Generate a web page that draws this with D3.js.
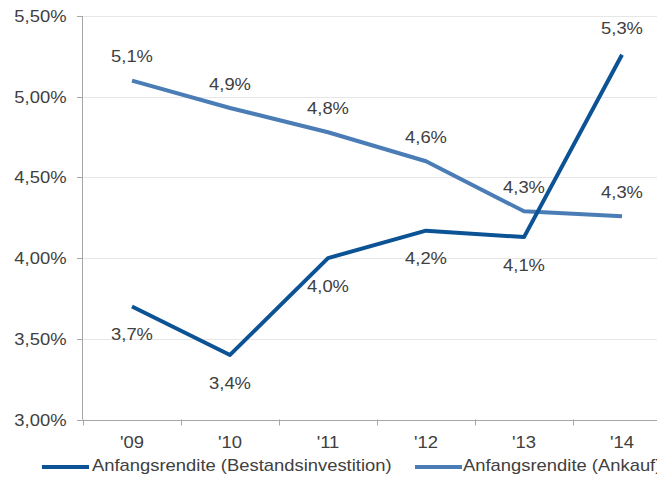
<!DOCTYPE html>
<html>
<head>
<meta charset="utf-8">
<script src="https://cdn.jsdelivr.net/npm/d3@7"></script>
<style>
  body { margin: 0; background: #fff; }
  text { font-family: "Liberation Sans", Arial, sans-serif; fill: #404040; }
</style>
</head>
<body>
<div id="chart"></div>
<script>
// data
var years = ["'09", "'10", "'11", "'12", "'13", "'14"]
var bestand = [3.70, 3.40, 4.00, 4.17, 4.13, 5.26]
var ankauf = [5.10, 4.93, 4.78, 4.60, 4.29, 4.26]
var yTicks = [3.0, 3.5, 4.0, 4.5, 5.0, 5.5]
var seriesNames = ["Anfangsrendite (Bestandsinvestition)", "Anfangsrendite (Ankauf)"]

var dims = { width: 657, height: 477, left: 83, right: 671, top: 16, bottom: 419.5 }
var colors = { dark: "#0b5394", light: "#4a7db6" }
var stretch = 1.15 // text in the picture is a bit wider than normal

var svg = d3.select("#chart").append("svg")
    .attr("width", dims.width)
    .attr("height", dims.height)

var x = d3.scaleBand().domain(years).range([dims.left, dims.right])
var y = d3.scaleLinear().domain([3, 5.5]).range([dims.bottom, dims.top])

var comma = function(f) { return function(v) { return d3.format(f)(v).replace(".", ",") } }

function label(g, txt, px, py, anchor) {
    return g.append("text")
        .attr("transform", `translate(${px},${py}) scale(${stretch},1)`)
        .attr("text-anchor", anchor || "middle")
        .attr("dy", "0.35em")
        .attr("font-size", "16px")
        .text(txt)
}

// gridlines
svg.append("g").selectAll("line")
    .data(yTicks.slice(1))
    .enter().append("line")
    .attr("x1", dims.left).attr("x2", dims.width)
    .attr("y1", d => Math.round(y(d)) + 0.5).attr("y2", d => Math.round(y(d)) + 0.5)
    .style("stroke", "#e6e6e6")

// y axis
var yAxis = svg.append("g")
yAxis.append("line")
    .attr("x1", dims.left - 0.5).attr("x2", dims.left - 0.5)
    .attr("y1", dims.top).attr("y2", dims.bottom)
    .style("stroke", "#a6a6a6")
yTicks.forEach(function(t) {
    var ty = Math.round(y(t)) + 0.5
    yAxis.append("line")
        .attr("x1", dims.left - 6).attr("x2", dims.left)
        .attr("y1", ty).attr("y2", ty)
        .style("stroke", "#a6a6a6")
    label(yAxis, comma(".2f")(t) + "%", 66.5, ty, "end")
})

// x axis
var xAxis = svg.append("g")
xAxis.append("line")
    .attr("x1", dims.left - 1).attr("x2", dims.width)
    .attr("y1", Math.round(dims.bottom) + 0.5).attr("y2", Math.round(dims.bottom) + 0.5)
    .style("stroke", "#a6a6a6")
years.forEach(function(yr, i) {
    var tx = Math.round(x(yr)) + 0.5
    xAxis.append("line")
        .attr("x1", tx).attr("x2", tx)
        .attr("y1", dims.bottom).attr("y2", dims.bottom + 6)
        .style("stroke", "#a6a6a6")
    label(xAxis, yr, x(yr) + x.bandwidth() / 2, 442)
})

// lines
var line = d3.line()
    .x((d, i) => x(years[i]) + x.bandwidth() / 2)
    .y(d => y(d))

svg.append("path")
    .datum(ankauf)
    .attr("d", line)
    .style("fill", "none")
    .style("stroke", colors.light)
    .style("stroke-width", 4)
    .style("stroke-linejoin", "round")

svg.append("path")
    .datum(bestand)
    .attr("d", line)
    .style("fill", "none")
    .style("stroke", colors.dark)
    .style("stroke-width", 4)
    .style("stroke-linejoin", "round")

// data labels
var labels = svg.append("g")
ankauf.forEach(function(v, i) {
    label(labels, comma(".1f")(v) + "%", x(years[i]) + x.bandwidth() / 2, y(v) - 24)
})
bestand.forEach(function(v, i) {
    var last = i == bestand.length - 1
    label(labels, comma(".1f")(v) + "%", x(years[i]) + x.bandwidth() / 2, last ? y(v) - 26 : y(v) + 28)
})

// legend
var legend = svg.append("g")
legend.append("line")
    .attr("x1", 42).attr("x2", 89).attr("y1", 467).attr("y2", 467)
    .style("stroke", colors.dark).style("stroke-width", 4)
label(legend, seriesNames[0], 92, 465, "start")
legend.append("line")
    .attr("x1", 415).attr("x2", 462).attr("y1", 467).attr("y2", 467)
    .style("stroke", colors.light).style("stroke-width", 4)
label(legend, seriesNames[1], 463, 465, "start")
</script>
</body>
</html>
